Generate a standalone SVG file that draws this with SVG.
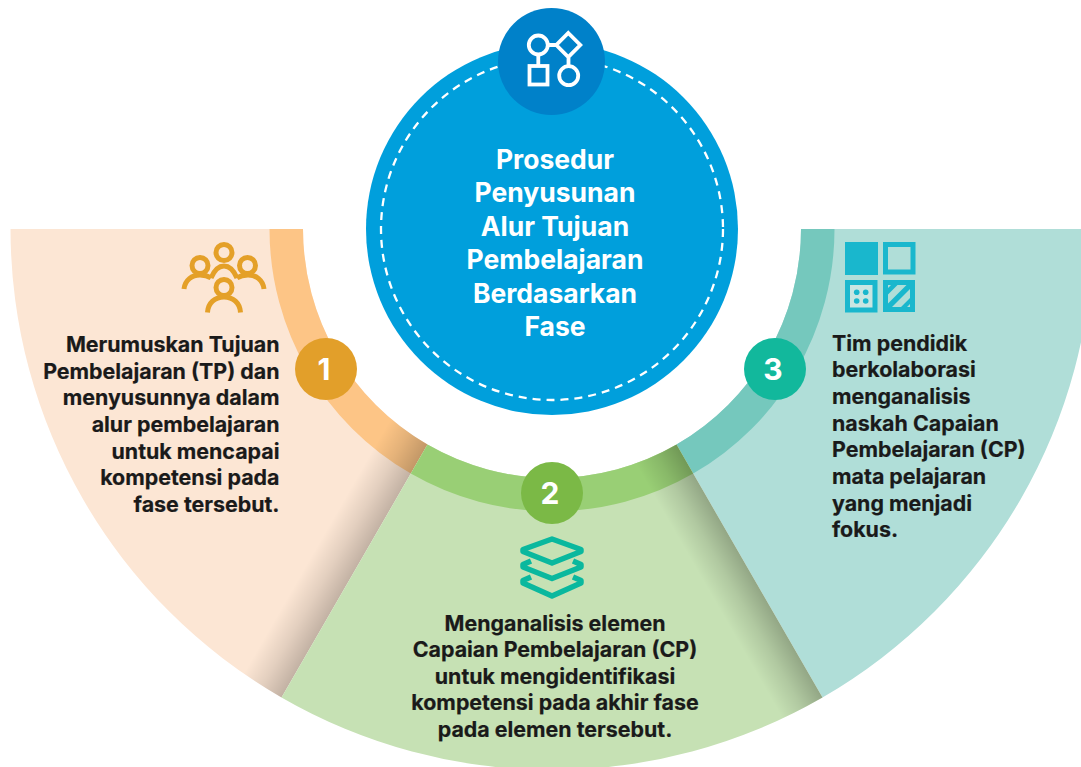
<svg xmlns="http://www.w3.org/2000/svg" width="1081" height="767" viewBox="0 0 1081 767">
<style>
.t{font-family:"Inter","Liberation Sans",sans-serif;font-weight:700;font-size:21.4px;fill:#1a1a1a;stroke:#1a1a1a;stroke-width:.2}
.h{font-family:"Inter","Liberation Sans",sans-serif;font-weight:700;font-size:26.500px;fill:#fff;text-anchor:middle}
.n{font-family:"Inter","Liberation Sans",sans-serif;font-weight:700;font-size:30px;fill:#fff;text-anchor:middle}
.m{text-anchor:middle}.e{text-anchor:end}
.w{fill:none;stroke:#fff;stroke-width:3.8}
.o{fill:none;stroke:#e4a028;stroke-width:5}
.g{fill:none;stroke:#0ab89e;stroke-width:5.500;stroke-linejoin:round}
.c{fill:#19b7cd}
</style>
<defs>
<linearGradient id="sl" gradientUnits="userSpaceOnUse" x1="552" y1="229" x2="513" y2="206.500"><stop offset="0" stop-color="#000" stop-opacity=".23"/><stop offset=".5" stop-color="#000" stop-opacity=".1"/><stop offset="1" stop-color="#000" stop-opacity="0"/></linearGradient>
<linearGradient id="sh" gradientUnits="userSpaceOnUse" x1="552" y1="229" x2="513" y2="251.500"><stop offset="0" stop-color="#000" stop-opacity=".26"/><stop offset=".5" stop-color="#000" stop-opacity=".11"/><stop offset="1" stop-color="#000" stop-opacity="0"/></linearGradient>
</defs>
<g id="segment-1">
<path d="M10.500 229H303A249 249 0 0 0 427.500 444.600L281.500 697.500A541 541 0 0 1 10.500 229Z" fill="#fce6d4"/>
<path d="M269.500 229H303A249 249 0 0 0 427.500 444.600L410.800 473.600A282.500 282.500 0 0 1 269.500 229Z" fill="#fdc586"/>
<path d="M427.500 444.600L281.500 697.500A541 541 0 0 1 243.500 673.400L391 418.600A249 249 0 0 0 427.500 444.600Z" fill="url(#sl)"/>
</g>
<g id="segment-3">
<path d="M1093 229H801A249 249 0 0 1 676.500 444.600L822.500 697.500A541 541 0 0 0 1093 229Z" fill="#b0ded8"/>
<path d="M834.500 229H801A249 249 0 0 1 676.500 444.600L693.200 473.600A282.500 282.500 0 0 0 834.500 229Z" fill="#75c8bd"/>
</g>
<g id="segment-2">
<path d="M427.500 444.600A249 249 0 0 0 676.500 444.600L822.500 697.500A541 541 0 0 1 281.500 697.500Z" fill="#c6e1b4"/>
<path d="M427.500 444.600A249 249 0 0 0 676.500 444.600L693.200 473.600A282.500 282.500 0 0 1 410.800 473.600Z" fill="#99cf75"/>
<path d="M676.500 444.600L822.500 697.500A541 541 0 0 1 782.600 718.400L635.500 463.600A249 249 0 0 0 676.500 444.600Z" fill="url(#sh)"/>
</g>
<g id="center">
<circle cx="552" cy="229" r="186" fill="#009fdc"/>
<circle cx="552" cy="229" r="171" fill="none" stroke="#fff" stroke-width="2.300" stroke-dasharray="8 6"/>
<text class="h"><tspan x="555" y="169">Prosedur</tspan><tspan x="555" y="202">Penyusunan</tspan><tspan x="555" y="236">Alur Tujuan</tspan><tspan x="555" y="269">Pembelajaran</tspan><tspan x="555" y="303">Berdasarkan</tspan><tspan x="555" y="336">Fase</tspan></text>
</g>
<g id="center-icon">
<circle cx="551.500" cy="61.500" r="53.500" fill="#0081c9"/>
<circle class="w" cx="538.300" cy="45" r="9.500"/>
<circle class="w" cx="568.700" cy="75.700" r="9.500"/>
<rect class="w" x="529.500" y="66" width="18" height="18.500"/>
<path class="w" d="M568.300 33L580.300 45L568.300 57L556.300 45ZM547.800 45H556.300M538.300 54.500V66M568.500 57V66.200"/>
</g>
<g id="node-1">
<circle cx="326" cy="369" r="31" fill="#e29f2a"/>
<text class="n" x="324" y="380">1</text>
<circle class="o" cx="224" cy="252.500" r="8"/><circle class="o" cx="200" cy="265.500" r="8"/><circle class="o" cx="247.500" cy="265.500" r="8"/><circle class="o" cx="224" cy="287.500" r="8"/>
<path class="o" d="M184 289C185 280 192 275 200 275C204 275 208 276 211 278M237 278C240 276 244 275 248 275C256 275 263 280 264 289M211 278C214 271 218 266 224 266C230 266 234 271 237 278M207.500 312.500C208 303 215 297 224 297C233 297 240 303 240.500 312.500"/>
<text class="t e"><tspan x="279.500" y="351.500">Merumuskan Tujuan</tspan><tspan x="279.500" y="378.500">Pembelajaran (TP) dan</tspan><tspan x="279.500" y="405">menyusunnya dalam</tspan><tspan x="279.500" y="432">alur pembelajaran</tspan><tspan x="279.500" y="458.500">untuk mencapai</tspan><tspan x="279.500" y="485">kompetensi pada</tspan><tspan x="279.500" y="512">fase tersebut.</tspan></text>
</g>
<g id="node-2">
<circle cx="552" cy="493" r="31" fill="#7bb946"/>
<text class="n" x="550" y="504">2</text>
<path class="g" d="M552 539L523 549.500V551.500L552 563L581 551.500V549.500ZM531 561L523 564.500V567L552 578.500L581 567V564.500L573 561M531 577L523 580.500V583L552 596L581 583V580.500L573 577"/>
<text class="t m"><tspan x="555" y="630.500">Menganalisis elemen</tspan><tspan x="555" y="656.500">Capaian Pembelajaran (CP)</tspan><tspan x="555" y="683.500">untuk mengidentifikasi</tspan><tspan x="555" y="710">kompetensi pada akhir fase</tspan><tspan x="555" y="737">pada elemen tersebut.</tspan></text>
</g>
<g id="node-3">
<circle cx="775" cy="369" r="31" fill="#12b89c"/>
<text class="n" x="773" y="380">3</text>
<rect class="c" x="845" y="242" width="33" height="33"/>
<rect x="885.500" y="244.500" width="27.500" height="27.500" fill="none" stroke="#19b7cd" stroke-width="5"/>
<rect x="847.500" y="282.500" width="27.500" height="27.500" fill="#c9e6e2" stroke="#19b7cd" stroke-width="5"/>
<g class="c"><circle cx="856.700" cy="292.300" r="2.800"/><circle cx="865.700" cy="292.300" r="2.800"/><circle cx="856.700" cy="301" r="2.800"/><circle cx="865.700" cy="301" r="2.800"/></g>
<rect class="c" x="883" y="280" width="32" height="32"/>
<path d="M888 294.500L897.500 285H906.500L888 303.500ZM892 307L910 289V298L901 307ZM888 285H891L888 288ZM910 307H907L910 304Z" fill="#b0ded8"/>
<text class="t"><tspan x="832" y="350.500">Tim pendidik</tspan><tspan x="832" y="377">berkolaborasi</tspan><tspan x="832" y="404">menganalisis</tspan><tspan x="832" y="430.500">naskah Capaian</tspan><tspan x="832" y="457">Pembelajaran (CP)</tspan><tspan x="832" y="484">mata pelajaran</tspan><tspan x="832" y="510.500">yang menjadi</tspan><tspan x="832" y="537">fokus.</tspan></text>
</g>
</svg>
